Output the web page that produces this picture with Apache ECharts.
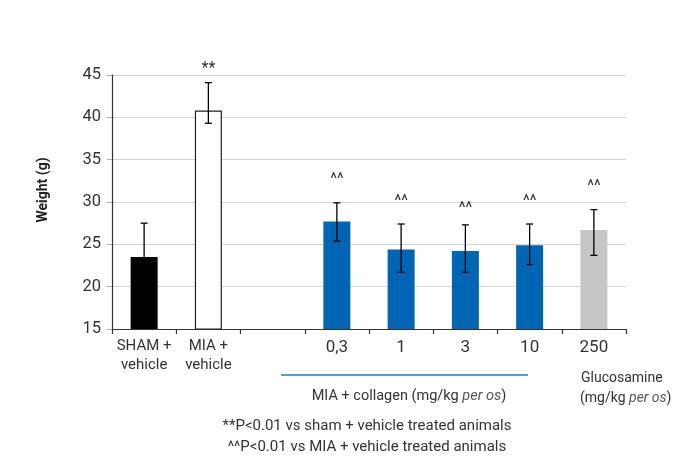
<!DOCTYPE html>
<html>
<head>
<meta charset="utf-8">
<script src="https://cdn.jsdelivr.net/npm/echarts@6/dist/echarts.min.js"></script>
<style>html,body{margin:0;padding:0;background:#fff;}#c{width:681px;height:457px;}</style>
</head>
<body>
<div id="c"></div>
<script>
var categories = ['SHAM +\nvehicle', 'MIA +\nvehicle', '', '0,3', '1', '3', '10', '250'];
var means   = [23.5, 40.8, null, 27.7, 24.4, 24.2, 24.9, 26.7];
var errHigh = [27.5, 44.1, null, 29.9, 27.4, 27.3, 27.4, 29.1];
var errLow  = [19.5, 39.3, null, 25.4, 21.7, 21.7, 22.6, 23.7];
var sigLabels = ['', '**', '', '^^', '^^', '^^', '^^', '^^'];
var barColors = ['#000000', '#ffffff', '#ffffff', '#0066b3', '#0066b3', '#0066b3', '#0066b3', '#c6c6c6'];
var yTicks = [15, 20, 25, 30, 35, 40, 45];

var FONT = 'Roboto, "DejaVu Sans", sans-serif';
var sigOffset = [0, 14, 0, 23, 22, 16, 22, 23];

var chart = echarts.init(document.getElementById('c'), null, {renderer: 'canvas'});
var barData = means.map(function (v, i) {
  if (v === null) return '-';
  return {
    value: v,
    itemStyle: {
      color: barColors[i],
      borderColor: i === 1 ? '#222' : barColors[i],
      borderWidth: i === 1 ? 1.2 : 0
    }
  };
});
var errData = means.map(function (v, i) { return [i, errLow[i], errHigh[i]]; }).filter(function (d) { return d[1] !== null; });

chart.setOption({
  animation: false,
  backgroundColor: '#ffffff',
  grid: {left: 112, right: 55, top: 75, bottom: 128, containLabel: false},
  xAxis: {
    type: 'category',
    data: categories,
    boundaryGap: true,
    axisLine: {lineStyle: {color: '#333', width: 1.2}},
    axisTick: {show: true, interval: 0, length: 5, lineStyle: {color: '#333', width: 1.2}},
    axisLabel: {
      interval: 0,
      margin: 8,
      color: '#333',
      fontFamily: FONT,
      formatter: function (val) {
        if (val.indexOf('\n') >= 0) {
          return val.split('\n').map(function (s) { return '{s|' + s + '}'; }).join('\n');
        }
        return '{n|' + val + '}';
      },
      rich: {
        s: {fontSize: 15, lineHeight: 18.5, fontFamily: FONT, color: '#333'},
        n: {fontSize: 17, lineHeight: 22, fontFamily: FONT, color: '#333'}
      }
    },
    splitLine: {show: false}
  },
  yAxis: {
    type: 'value',
    min: 15, max: 45, interval: 5,
    axisLine: {show: true, lineStyle: {color: '#333', width: 1.2}},
    axisTick: {show: true, length: 5, lineStyle: {color: '#aaa', width: 1}},
    axisLabel: {color: '#333', fontSize: 16.5, fontFamily: FONT, margin: 11,
      formatter: function (v) { return yTicks.indexOf(v) >= 0 ? String(v) : ''; }},
    splitLine: {lineStyle: {color: '#d4d4d4', width: 1.2}}
  },
  series: [
    {
      type: 'bar',
      data: barData,
      barWidth: 27,
      z: 2
    },
    {
      type: 'custom',
      z: 5,
      data: errData,
      renderItem: function (params, api) {
        var idx = api.value(0);
        var hi = api.coord([idx, api.value(2)]);
        var lo = api.coord([idx, api.value(1)]);
        var cap = 3.5;
        var st = {stroke: '#000', lineWidth: 1.3};
        return {
          type: 'group',
          children: [
            {type: 'line', shape: {x1: hi[0], y1: hi[1], x2: lo[0], y2: lo[1]}, style: st},
            {type: 'line', shape: {x1: hi[0] - cap, y1: hi[1], x2: hi[0] + cap, y2: hi[1]}, style: st},
            {type: 'line', shape: {x1: lo[0] - cap, y1: lo[1], x2: lo[0] + cap, y2: lo[1]}, style: st},
            {type: 'text', style: {x: hi[0], y: hi[1] - sigOffset[idx], text: sigLabels[idx], fill: '#333',
              font: '16px ' + FONT, textAlign: 'center', textVerticalAlign: 'middle'}}
          ]
        };
      }
    }
  ],
  graphic: [
    {type: 'text', x: 43, y: 190, rotation: Math.PI / 2,
      style: {text: 'Weight (g)', font: 'bold 14px ' + FONT, fill: '#222', textAlign: 'center', textVerticalAlign: 'middle'}},
    {type: 'line', shape: {x1: 281, y1: 375, x2: 528, y2: 375}, style: {stroke: '#1f78c8', lineWidth: 1.5}},
    {type: 'text', x: 409, y: 396,
      style: {text: '{r|MIA + collagen (mg/kg }{i|per os}{r|)}', textAlign: 'center', textVerticalAlign: 'middle',
        rich: {r: {font: '14.5px ' + FONT, fill: '#333'}, i: {font: 'italic 14.5px ' + FONT, fill: '#555'}}}},
    {type: 'text', x: 581, y: 378,
      style: {text: 'Glucosamine', font: '14px ' + FONT, fill: '#333', textAlign: 'left', textVerticalAlign: 'middle'}},
    {type: 'text', x: 580, y: 398,
      style: {text: '{r|(mg/kg }{i|per os}{r|)}', textAlign: 'left', textVerticalAlign: 'middle',
        rich: {r: {font: '14px ' + FONT, fill: '#333'}, i: {font: 'italic 14px ' + FONT, fill: '#555'}}}},
    {type: 'text', x: 367, y: 426,
      style: {text: '**P<0.01 vs sham + vehicle treated animals', font: '15px ' + FONT, fill: '#333', textAlign: 'center', textVerticalAlign: 'middle'}},
    {type: 'text', x: 367, y: 447,
      style: {text: '^^P<0.01 vs MIA + vehicle treated animals', font: '15px ' + FONT, fill: '#333', textAlign: 'center', textVerticalAlign: 'middle'}}
  ]
});
</script>
</body>
</html>
